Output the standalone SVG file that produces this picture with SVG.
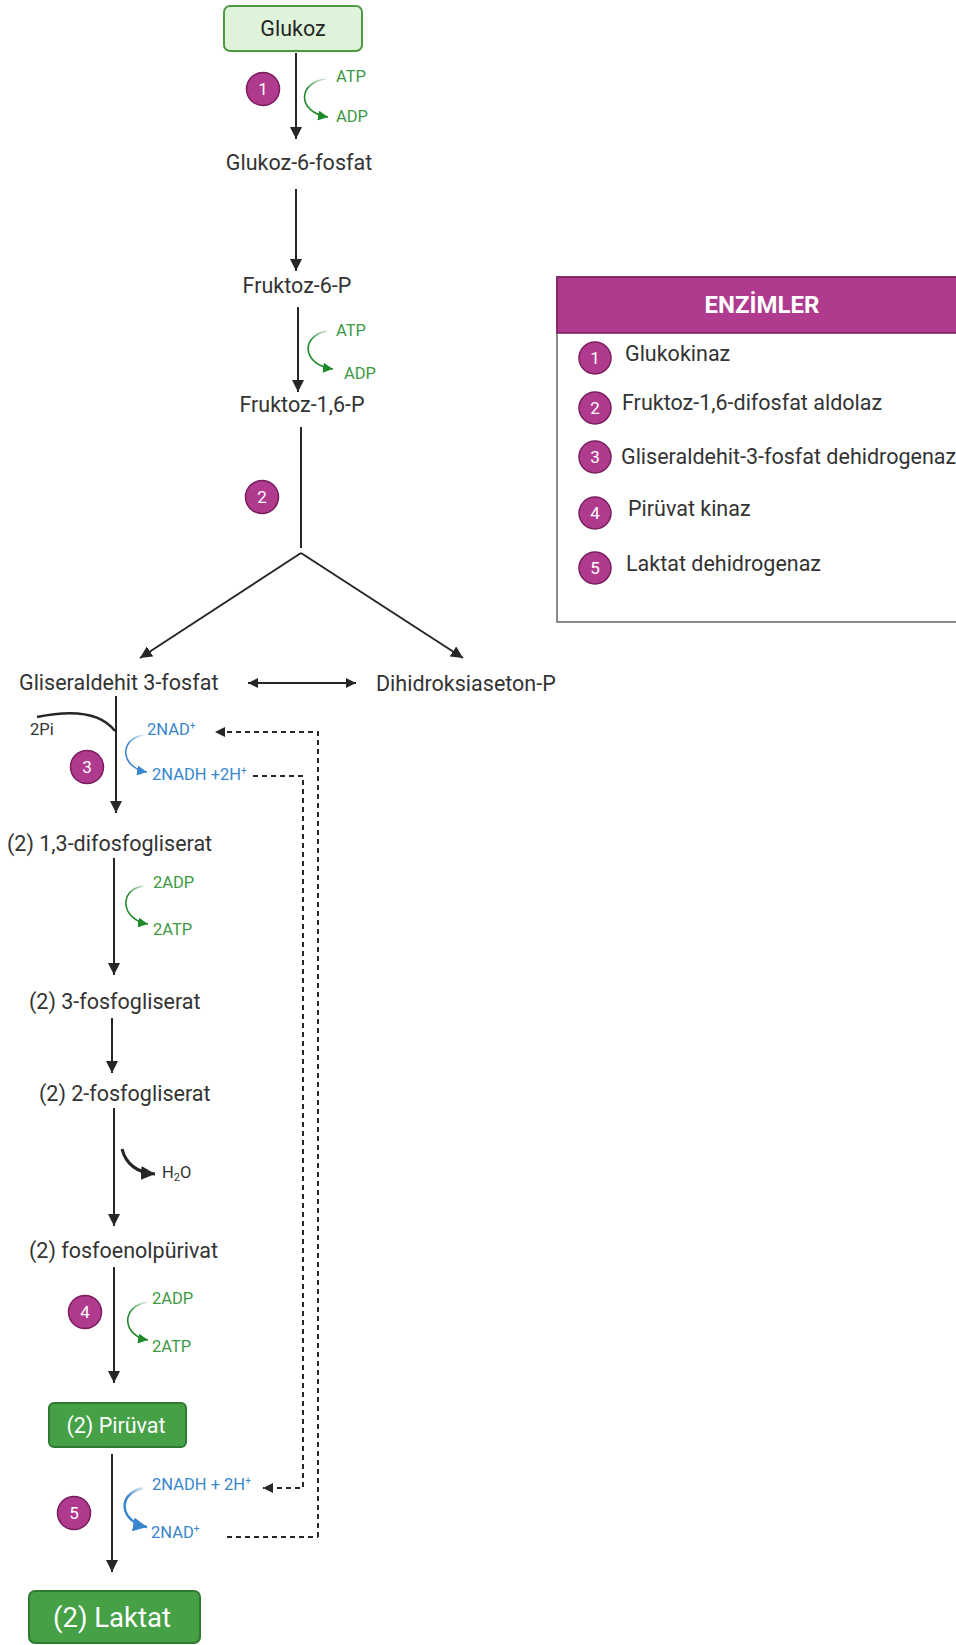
<svg xmlns="http://www.w3.org/2000/svg" width="956" height="1645" viewBox="0 0 956 1645">
<style>
text{font-family:Roboto,"Liberation Sans",Arial,sans-serif;}
.m{font-size:21.5px;fill:#333;}
.g{font-size:16.5px;fill:#3d9a45;}
.b{font-size:16.5px;fill:#3a86cc;}
.k{font-size:16.5px;fill:#333;}
.ln{stroke:#262626;stroke-width:2;fill:none;}
.badge circle{fill:#b03a8e;stroke:#7a1d5f;stroke-width:1.5;}
.badge text{fill:#fff;font-size:17px;text-anchor:middle;}
.dash{stroke:#262626;stroke-width:2;fill:none;stroke-dasharray:5 4;}
.lg{font-size:21.5px;fill:#333;}
</style>
<defs>
<marker id="ah" markerUnits="userSpaceOnUse" markerWidth="14" markerHeight="12" refX="12" refY="6" orient="auto"><path d="M0,0 L12,6 L0,12 z" fill="#262626"/></marker>
<marker id="ahs" markerUnits="userSpaceOnUse" markerWidth="12" markerHeight="10" refX="10" refY="5" orient="auto-start-reverse"><path d="M0,0 L10,5 L0,10 z" fill="#262626"/></marker>
<marker id="ahg" markerUnits="userSpaceOnUse" markerWidth="12" markerHeight="10" refX="10" refY="5" orient="auto"><path d="M0,0 L10,5 L0,10 z" fill="#1f8a2a"/></marker>
<marker id="ahb" markerUnits="userSpaceOnUse" markerWidth="12" markerHeight="10" refX="10" refY="5" orient="auto"><path d="M0,0 L10,5 L0,10 z" fill="#3a86cc"/></marker>
<marker id="ahb2" markerUnits="userSpaceOnUse" markerWidth="16" markerHeight="14" refX="14" refY="7" orient="auto"><path d="M0,0 L14,7 L0,14 z" fill="#3a86cc"/></marker>
<marker id="ahk" markerUnits="userSpaceOnUse" markerWidth="16" markerHeight="14" refX="14" refY="7" orient="auto"><path d="M0,0 L14,7 L0,14 z" fill="#262626"/></marker>
<linearGradient id="gg" x1="1" y1="0" x2="0.6" y2="1"><stop offset="0" stop-color="#1f8a2a" stop-opacity="0.1"/><stop offset="0.5" stop-color="#1f8a2a"/><stop offset="1" stop-color="#1f8a2a"/></linearGradient>
<linearGradient id="gb" x1="1" y1="0" x2="0.6" y2="1"><stop offset="0" stop-color="#3a86cc" stop-opacity="0.1"/><stop offset="0.5" stop-color="#3a86cc"/><stop offset="1" stop-color="#3a86cc"/></linearGradient>
</defs>

<g id="connectors">
<line class="ln" x1="296" y1="53" x2="296" y2="139" marker-end="url(#ah)"/>
<line class="ln" x1="296" y1="189" x2="296" y2="271" marker-end="url(#ah)"/>
<line class="ln" x1="298" y1="307" x2="298" y2="392" marker-end="url(#ah)"/>
<line class="ln" x1="301" y1="427" x2="301" y2="548"/>
<line class="ln" x1="301" y1="553" x2="140" y2="658" marker-end="url(#ah)"/>
<line class="ln" x1="301" y1="553" x2="463" y2="658" marker-end="url(#ah)"/>
<line class="ln" x1="248" y1="683" x2="356" y2="683" marker-start="url(#ahs)" marker-end="url(#ahs)"/>
<line class="ln" x1="116" y1="696" x2="116" y2="813" marker-end="url(#ah)"/>
<line class="ln" x1="114" y1="858" x2="114" y2="975" marker-end="url(#ah)"/>
<line class="ln" x1="112" y1="1018" x2="112" y2="1073" marker-end="url(#ah)"/>
<line class="ln" x1="114" y1="1108" x2="114" y2="1226" marker-end="url(#ah)"/>
<line class="ln" x1="114" y1="1267" x2="114" y2="1383" marker-end="url(#ah)"/>
<line class="ln" x1="112" y1="1454" x2="112" y2="1572" marker-end="url(#ah)"/>
<path d="M37,717 Q95,705 115,731" stroke="#262626" stroke-width="2.5" fill="none"/>
<path d="M122,1149 Q128,1172 155,1174" stroke="#262626" stroke-width="3" fill="none" marker-end="url(#ahk)"/>
<path d="M326,79 C298,82 296,112 328,117" stroke="url(#gg)" stroke-width="1.6" fill="none" marker-end="url(#ahg)"/>
<path d="M327,331 C300,336 302,365 333,369" stroke="url(#gg)" stroke-width="1.6" fill="none" marker-end="url(#ahg)"/>
<path d="M143,886 C118,890 121,920 148,924" stroke="url(#gg)" stroke-width="1.6" fill="none" marker-end="url(#ahg)"/>
<path d="M148,1302 C120,1306 122,1336 148,1340" stroke="url(#gg)" stroke-width="1.6" fill="none" marker-end="url(#ahg)"/>
<path d="M143,735 C118,740 121,768 147,772" stroke="url(#gb)" stroke-width="1.6" fill="none" marker-end="url(#ahb)"/>
<path d="M143,1488 C116,1494 120,1522 147,1527" stroke="url(#gb)" stroke-width="2.5" fill="none" marker-end="url(#ahb2)"/>
<path class="dash" d="M318,1537 L318,732 L215,732" marker-end="url(#ahs)"/>
<path class="dash" d="M227,1537 L318,1537"/>
<path class="dash" d="M253,776 L303,776 L303,1488 L263,1488" marker-end="url(#ahs)"/>
</g>

<g id="glukoz"><rect x="224" y="6" width="138" height="45" rx="6" fill="#dff2da" stroke="#4d9a43" stroke-width="2"/><text x="293" y="36" text-anchor="middle" style="font-size:21.5px;fill:#262626">Glukoz</text></g>
<g id="g6p"><text class="m" x="299" y="170" text-anchor="middle">Glukoz-6-fosfat</text></g>
<g id="f6p"><text class="m" x="297" y="293" text-anchor="middle">Fruktoz-6-P</text></g>
<g id="f16p"><text class="m" x="302" y="412" text-anchor="middle">Fruktoz-1,6-P</text></g>
<g id="g3p"><text class="m" x="19" y="690">Gliseraldehit 3-fosfat</text></g>
<g id="dhap"><text class="m" x="376" y="691">Dihidroksiaseton-P</text></g>
<g id="bpg"><text class="m" x="7" y="851">(2) 1,3-difosfogliserat</text></g>
<g id="pg3"><text class="m" x="29" y="1009">(2) 3-fosfogliserat</text></g>
<g id="pg2"><text class="m" x="39" y="1101">(2) 2-fosfogliserat</text></g>
<g id="pep"><text class="m" x="29" y="1258">(2) fosfoenolpürivat</text></g>
<g id="piruvat"><rect x="49" y="1403" width="137" height="44" rx="5" fill="#45a046" stroke="#2e7a31" stroke-width="2"/><text x="116" y="1433" text-anchor="middle" style="font-size:21.5px;fill:#fff">(2) Pirüvat</text></g>
<g id="laktat"><rect x="29" y="1591" width="171" height="52" rx="6" fill="#45a046" stroke="#2e7a31" stroke-width="2"/><text x="112" y="1627" text-anchor="middle" style="font-size:27.5px;fill:#fff">(2) Laktat</text></g>

<g id="cofactors">
<text class="g" x="336" y="82">ATP</text><text class="g" x="336" y="122">ADP</text>
<text class="g" x="336" y="336">ATP</text><text class="g" x="344" y="379">ADP</text>
<text class="k" x="30" y="735">2Pi</text>
<text class="b" x="147" y="735">2NAD<tspan dy="-6" font-size="10">+</tspan></text>
<text class="b" x="152" y="780">2NADH +2H<tspan dy="-6" font-size="10">+</tspan></text>
<text class="g" x="153" y="888">2ADP</text><text class="g" x="153" y="935">2ATP</text>
<text class="k" x="162" y="1178">H<tspan dy="3" font-size="11">2</tspan><tspan dy="-3">O</tspan></text>
<text class="g" x="152" y="1304">2ADP</text><text class="g" x="152" y="1352">2ATP</text>
<text class="b" x="152" y="1490">2NADH + 2H<tspan dy="-6" font-size="10">+</tspan></text>
<text class="b" x="151" y="1538">2NAD<tspan dy="-6" font-size="10">+</tspan></text>
</g>

<g id="badges">
<g class="badge"><circle cx="263" cy="89" r="16.5"/><text x="263" y="95">1</text></g>
<g class="badge"><circle cx="262" cy="497" r="16.5"/><text x="262" y="503">2</text></g>
<g class="badge"><circle cx="87" cy="767" r="16.5"/><text x="87" y="773">3</text></g>
<g class="badge"><circle cx="85" cy="1312" r="16.5"/><text x="85" y="1318">4</text></g>
<g class="badge"><circle cx="74" cy="1513" r="16.5"/><text x="74" y="1519">5</text></g>
</g>

<g id="enzimler">
<rect x="557" y="277" width="405" height="345" fill="#fff" stroke="#666" stroke-width="1.5"/>
<rect x="557" y="277" width="405" height="56" fill="#b03a8e" stroke="#7a1d5f" stroke-width="1.5"/>
<text x="762" y="313" text-anchor="middle" style="font-size:24px;font-weight:bold;fill:#fff">ENZİMLER</text>
<g class="badge"><circle cx="595" cy="358" r="16"/><text x="595" y="364">1</text></g>
<g class="badge"><circle cx="595" cy="408" r="16"/><text x="595" y="414">2</text></g>
<g class="badge"><circle cx="595" cy="457" r="16"/><text x="595" y="463">3</text></g>
<g class="badge"><circle cx="595" cy="513" r="16"/><text x="595" y="519">4</text></g>
<g class="badge"><circle cx="595" cy="568" r="16"/><text x="595" y="574">5</text></g>
<text class="lg" x="625" y="361">Glukokinaz</text>
<text class="lg" x="622" y="410">Fruktoz-1,6-difosfat aldolaz</text>
<text class="lg" x="621" y="464">Gliseraldehit-3-fosfat dehidrogenaz</text>
<text class="lg" x="628" y="516">Pirüvat kinaz</text>
<text class="lg" x="626" y="571">Laktat dehidrogenaz</text>
</g>
</svg>
